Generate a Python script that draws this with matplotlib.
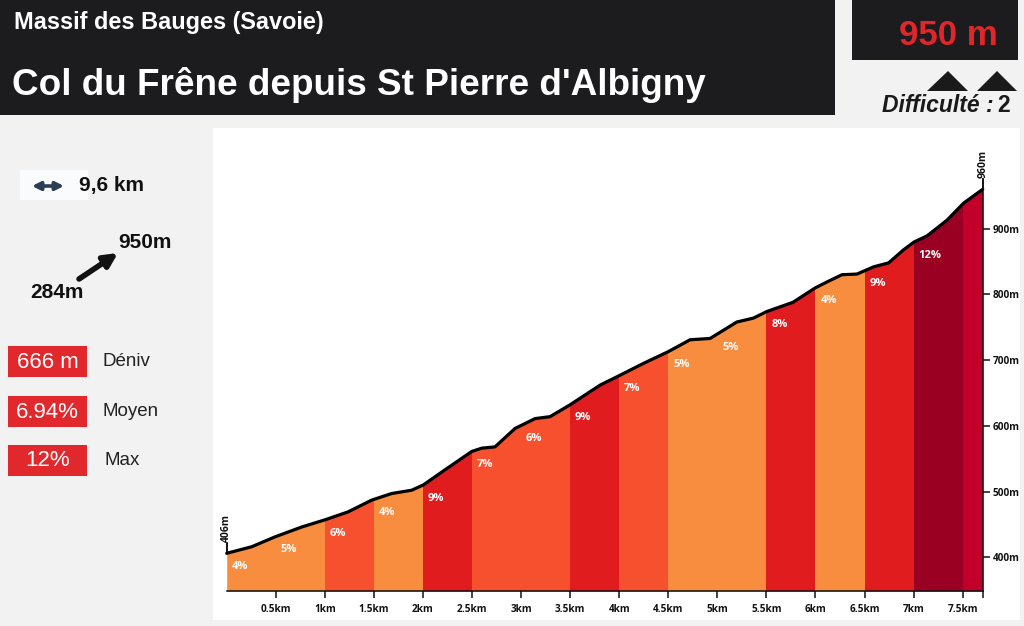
import matplotlib
matplotlib.use('Agg')
import matplotlib.pyplot as plt
from matplotlib import font_manager
from matplotlib.patches import Rectangle, Polygon
import numpy as np

# ---------------- data ----------------
dist_km = [0.000, 0.255, 0.492, 0.764, 1.002, 1.236, 1.478, 1.681, 1.885, 2.003,
           2.224, 2.497, 2.599, 2.734, 2.938, 3.142, 3.295, 3.499, 3.805, 4.008,
           4.246, 4.501, 4.722, 4.926, 5.198, 5.368, 5.504, 5.770, 5.998, 6.117,
           6.270, 6.423, 6.592, 6.745, 6.898, 7.007, 7.136, 7.340, 7.510, 7.704]
elev_m = [406, 416, 431, 446, 457, 469, 487, 497, 502, 510,
          533, 561, 566, 568, 596, 611, 614, 632, 662, 677,
          695, 713, 731, 733, 758, 764, 774, 788, 810, 819,
          830, 831, 842, 848, 868, 880, 889, 913, 939, 960]

seg_start_km = [0.0, 0.5, 1.0, 1.5, 2.0, 2.5, 3.0, 3.5, 4.0, 4.5, 5.0, 5.5, 6.0, 6.5, 7.0, 7.5]
seg_grade = ['4%', '5%', '6%', '4%', '9%', '7%', '6%', '9%', '7%', '5%', '5%', '8%', '4%', '9%', '12%', '']
C_LO, C_OR, C_RD, C_DK, C_CR = '#F98D3F', '#F6502E', '#E01C1E', '#9A0021', '#C1012A'
seg_colors = [C_LO, C_LO, C_OR, C_LO, C_RD, C_OR, C_OR, C_RD, C_OR, C_LO, C_LO, C_RD, C_LO, C_RD, C_DK, C_CR]

x_ticks_km = [0.5, 1.0, 1.5, 2.0, 2.5, 3.0, 3.5, 4.0, 4.5, 5.0, 5.5, 6.0, 6.5, 7.0, 7.5]
x_tick_labels = ['0.5km', '1km', '1.5km', '2km', '2.5km', '3km', '3.5km', '4km',
                 '4.5km', '5km', '5.5km', '6km', '6.5km', '7km', '7.5km']
y_ticks_m = [400, 500, 600, 700, 800, 900]
y_tick_labels = ['400m', '500m', '600m', '700m', '800m', '900m']

region = 'Massif des Bauges (Savoie)'
title = "Col du Frêne depuis St Pierre d'Albigny"
summit = '950 m'
stats_values = ['666 m', '6.94%', '12%']
stats_names = ['Déniv', 'Moyen', 'Max']

# ---------------- figure ----------------
W, H = 1024, 626
fig = plt.figure(figsize=(W / 100, H / 100), dpi=100, facecolor='#F2F2F2')
bg = fig.add_axes([0, 0, 1, 1])
bg.set_xlim(0, W)
bg.set_ylim(H, 0)
bg.axis('off')

names = {f.name for f in font_manager.fontManager.ttflist}
NARROW = 'Liberation Sans Narrow' if 'Liberation Sans Narrow' in names else 'Liberation Sans'
ARIAL = 'Liberation Sans'
TICKF = 'Open Sans' if 'Open Sans' in names else 'DejaVu Sans'

renderer = fig.canvas.get_renderer()


def fit_width(t, width):
    bb = t.get_window_extent(renderer)
    t.set_fontsize(t.get_fontsize() * width / bb.width)


# header boxes
HDR = '#1C1B1D'
bg.add_patch(Rectangle((0, 0), 835, 115, color=HDR, lw=0))
bg.add_patch(Rectangle((852, 0), 166, 60, color=HDR, lw=0))
bg.add_patch(Polygon([(927, 91), (948, 71), (968, 91)], closed=True, color='#1A1A1A', lw=0))
bg.add_patch(Polygon([(977, 91), (997, 71), (1017, 91)], closed=True, color='#1A1A1A', lw=0))

t = bg.text(14, 29, region, color='white', fontsize=15, fontweight='bold',
            family=NARROW, va='baseline', ha='left')
fit_width(t, 312)
t = bg.text(12, 95, title, color='white', fontsize=27, fontweight='bold',
            family=NARROW, va='baseline', ha='left')
fit_width(t, 693)
t = bg.text(899, 45, summit, color='#E0262B', fontsize=20, fontweight='bold',
            family=NARROW, va='baseline', ha='left')
fit_width(t, 99)
t = bg.text(882, 112.5, 'Difficulté :', color='#1A1A1A', fontsize=13, fontweight='bold',
            style='italic', family=NARROW, va='baseline', ha='left')
fit_width(t, 111)
bg.text(997, 112.5, '2', color='#1A1A1A', fontsize=t.get_fontsize(), fontweight='bold',
        family=NARROW, va='baseline', ha='left')

# chart panel
bg.add_patch(Rectangle((213, 128), 807, 492, color='white', lw=0))

# left panel
bg.add_patch(Rectangle((20, 170), 68, 30, color='#FAFBFC', lw=0))
bg.annotate('', xy=(64, 186), xytext=(32, 186),
            arrowprops=dict(arrowstyle='<|-|>', color='#2C3E55', lw=2.6,
                            mutation_scale=12, shrinkA=0, shrinkB=0))
bg.text(79, 185, '9,6 km', color='#111111', fontsize=15, fontweight='bold',
        family=ARIAL, va='center', ha='left')
bg.text(118, 243, '950m', color='#111111', fontsize=15, fontweight='bold',
        family=ARIAL, va='center', ha='left')
bg.text(30, 292, '284m', color='#111111', fontsize=15, fontweight='bold',
        family=ARIAL, va='center', ha='left')
bg.annotate('', xy=(118, 253), xytext=(79, 279),
            arrowprops=dict(arrowstyle='-|>', color='#111111', lw=4,
                            mutation_scale=20, shrinkA=0, shrinkB=0))

box_tops = [346, 396, 445]
name_x = [103, 103, 104]
for top, val, nm, nx in zip(box_tops, stats_values, stats_names, name_x):
    bg.add_patch(Rectangle((8, top), 79, 31, color='#E0282D', lw=0))
    bg.text(47.5, top + 16, val, color='white', fontsize=16, family=ARIAL,
            va='center', ha='center')
    bg.text(nx, top + 15.5, nm, color='#222222', fontsize=13.5, family=ARIAL,
            va='center', ha='left')

# ---------------- profile chart ----------------
ax = fig.add_axes([213 / W, 6 / H, 807 / W, 492 / H])
ax.patch.set_alpha(0)
ax.set_xlim(-0.1396, 8.084)
ax.set_ylim(304.5, 1053.3)
base = 348.6
x_end = dist_km[-1]

n = len(seg_start_km)
for i, (s, col, lab) in enumerate(zip(seg_start_km, seg_colors, seg_grade)):
    e = seg_start_km[i + 1] if i + 1 < n else x_end
    poly = ax.fill_between(dist_km, elev_m, base, color=col, lw=0, zorder=1)
    poly.set_clip_path(Rectangle((s, base), e - s, 2000, transform=ax.transData))
    if lab:
        e0 = np.interp(s, dist_km, elev_m)
        ax.text(s + 0.05, e0 - 20, lab, color='white', fontsize=8, fontweight='bold',
                family=TICKF, va='center', ha='left', zorder=4)

ax.plot(dist_km, elev_m, color='black', lw=2.3, solid_capstyle='round',
        solid_joinstyle='round', zorder=3)

# start / end markers
for xv, ev in [(dist_km[0], elev_m[0]), (dist_km[-1], elev_m[-1])]:
    ax.plot([xv, xv], [ev, ev + 15], color='black', lw=1.3, zorder=3)
    ax.text(xv, ev + 17, f'{ev}m', rotation=90, color='#111111', fontsize=7.5,
            fontweight='bold', family=TICKF, va='bottom', ha='center', zorder=4)

for sp in ['top', 'left']:
    ax.spines[sp].set_visible(False)
ax.spines['bottom'].set_position(('data', base))
ax.spines['bottom'].set_bounds(0, x_end)
ax.spines['right'].set_position(('data', x_end))
ax.spines['right'].set_bounds(base, elev_m[-1])
for sp in ['bottom', 'right']:
    ax.spines[sp].set_color('#111111')
    ax.spines[sp].set_linewidth(1.1)
    ax.spines[sp].set_zorder(5)

ax.yaxis.tick_right()
ax.set_xticks(x_ticks_km + [x_end], x_tick_labels + [''])
ax.set_yticks(y_ticks_m, y_tick_labels)
ax.tick_params(axis='both', direction='out', length=5, width=1.1, color='#111111',
               labelsize=7.2, labelcolor='#111111')
ax.tick_params(axis='x', pad=4)
ax.tick_params(axis='y', pad=2)
for lbl in ax.get_xticklabels() + ax.get_yticklabels():
    lbl.set_fontfamily(TICKF)
    lbl.set_fontweight('bold')

fig.savefig('out.png', dpi=100, facecolor=fig.get_facecolor())
